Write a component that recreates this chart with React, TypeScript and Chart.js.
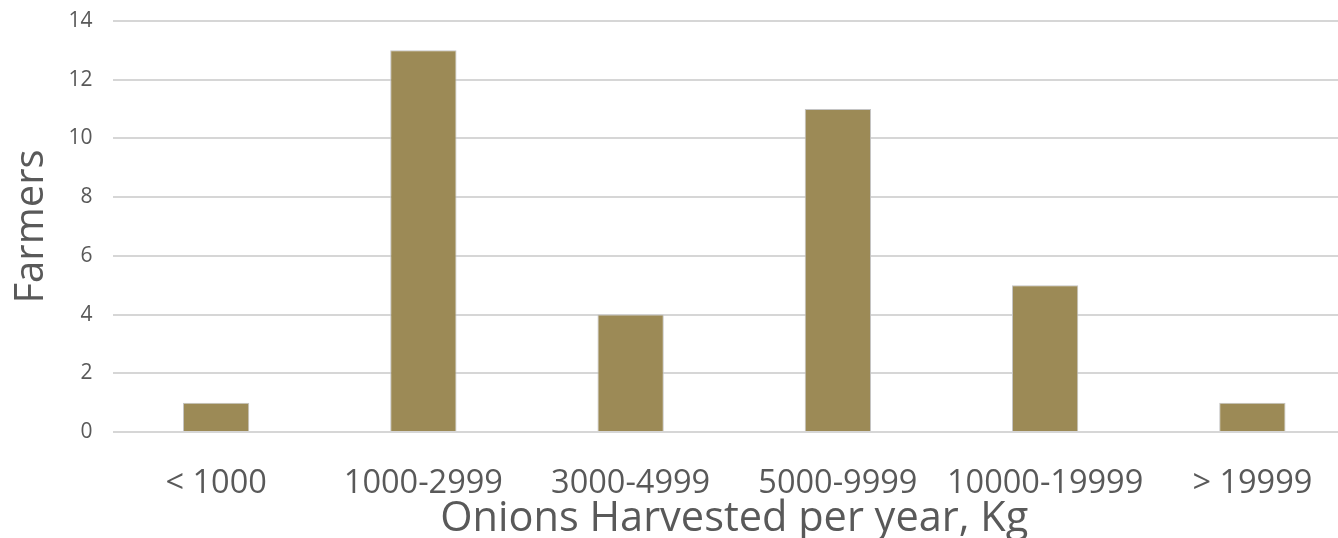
import { useEffect, useRef } from "react";
import { Chart, registerables } from "chart.js";

Chart.register(...registerables);

// Harvest size bands (kg per year) and number of farmers in each band
const categories = ["< 1000", "1000-2999", "3000-4999", "5000-9999", "10000-19999", "> 19999"];
const farmers = [1, 13, 4, 11, 5, 1];
const yTickValues = [0, 2, 4, 6, 8, 10, 12, 14];

const TEXT = "#595959";
const FONT = "'Open Sans', 'Noto Sans', sans-serif";

export default function App() {
  const canvasRef = useRef<HTMLCanvasElement>(null);

  useEffect(() => {
    document.body.style.margin = "0";
    const canvas = canvasRef.current;
    if (!canvas) return;
    const chart = new Chart(canvas, {
      type: "bar",
      data: {
        labels: categories,
        datasets: [
          {
            data: farmers,
            backgroundColor: "#9c8a56",
            borderColor: "#c4c4c4",
            borderWidth: 1,
            barPercentage: 0.32,
            categoryPercentage: 1,
          },
        ],
      },
      options: {
        responsive: false,
        animation: false,
        layout: { padding: { top: 21, right: 0, bottom: 0, left: 0 } },
        plugins: {
          legend: { display: false },
          tooltip: { enabled: false },
        },
        scales: {
          x: {
            grid: { display: false, drawTicks: false },
            border: { display: false },
            ticks: {
              color: TEXT,
              font: { family: FONT, size: 32.5 },
              padding: 32,
              maxRotation: 0,
              autoSkip: false,
            },
            title: {
              display: true,
              text: "Onions Harvested per year, Kg",
              color: TEXT,
              font: { family: FONT, size: 41.5 },
              padding: { top: 0, bottom: -6 },
            },
            afterFit: (scale: any) => {
              scale.height = 106;
              scale.paddingLeft = 0;
              scale.paddingRight = 0;
            },
          },
          y: {
            min: 0,
            max: 14,
            afterBuildTicks: (scale: any) => {
              scale.ticks = yTickValues.map((v) => ({ value: v }));
            },
            grid: { color: "#d6d6d6", lineWidth: 2, drawTicks: false },
            border: { display: false },
            ticks: {
              color: TEXT,
              font: { family: FONT, size: 21 },
              padding: 20,
            },
            title: {
              display: true,
              text: "Farmers",
              color: TEXT,
              font: { family: FONT, size: 40 },
              padding: 8,
            },
            afterFit: (scale: any) => {
              scale.width = 112.5;
              scale.paddingTop = 0;
              scale.paddingBottom = 0;
            },
          },
        },
      },
    });
    return () => chart.destroy();
  }, []);

  return (
    <div style={{ width: 1338, height: 538, overflow: "hidden", position: "relative" }}>
      <canvas ref={canvasRef} width={1356} height={538} style={{ display: "block" }} />
    </div>
  );
}
